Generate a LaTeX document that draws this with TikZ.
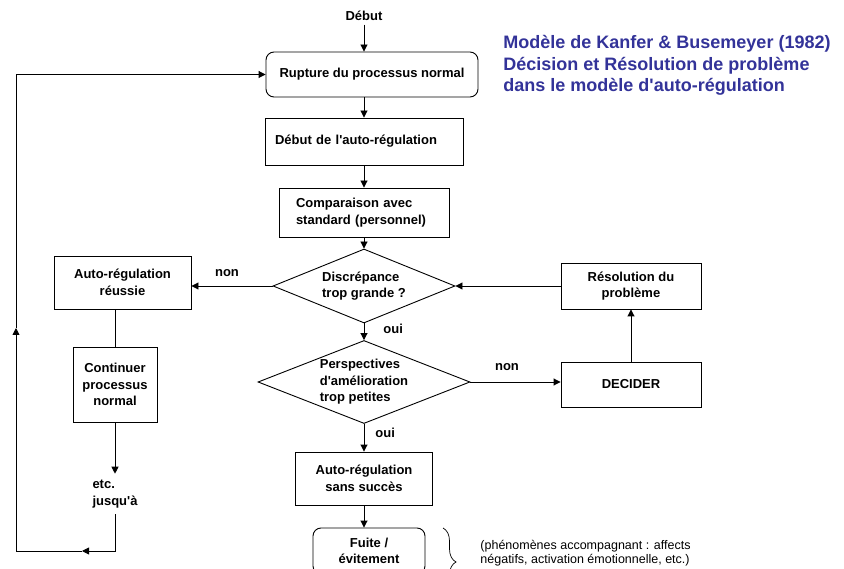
\documentclass[tikz,border=0pt]{standalone}
\usepackage{fontspec}
\setmainfont{Liberation Sans}
\usepackage{tikz}
\usetikzlibrary{arrows.meta,positioning,shapes.geometric,decorations.pathreplacing}
\definecolor{titleblue}{RGB}{51,51,153}

\begin{document}
\begin{tikzpicture}[x=1pt,y=-1pt,line width=0.9pt,
  every node/.style={font=\fontsize{13}{16.5}\selectfont\bfseries},
  box/.style={draw,inner sep=0pt,align=center},
  decision/.style={diamond,draw,aspect=2.5,inner sep=0pt,align=left},
  lbl/.style={inner sep=0pt},
  arr/.style={-{Triangle[length=7pt,width=7pt]}}]
\clip (0,0) rectangle (844,569);
% main column
\node (start) at (364,16) {Début};
\node[box,rounded corners=8pt,minimum width=212,minimum height=45] (rupture) at (372,74.5) {Rupture du processus normal};
\node[box,text width=178,inner xsep=10pt,align=left,minimum height=47] (autoreg) at (364,141.5) {Début de l\textquotesingle auto-régulation};
\node[box,text width=136,inner xsep=17pt,align=left,minimum height=49] (compare) at (364,212.5) {Comparaison avec\\standard (personnel)};
\node[decision,minimum width=182,minimum height=74] (discrep) at (364,286) {Discrépance\\trop grande ?};
\node[decision,minimum width=212,minimum height=83] (perspect) at (364,382) {Perspectives\\d\textquotesingle amélioration\\trop petites};
\node[box,minimum width=137,minimum height=53] (failure) at (364,478.5) {Auto-régulation\\sans succès};
\node[box,rounded corners=8pt,minimum width=112,minimum height=46] (escape) at (369,551) {Fuite /\\évitement};
% left branch
\node[box,minimum width=137,minimum height=53] (success) at (122.5,282.5) {Auto-régulation\\réussie};
\node[box,minimum width=84,minimum height=75] (continue) at (115,384.5) {Continuer\\processus\\normal};
\node[align=left,inner sep=6pt] (etc) at (115,494) {etc.\\jusqu\textquotesingle à};
% right branch
\node[box,minimum width=140,minimum height=46] (resolve) at (631,286) {Résolution du\\problème};
\node[box,minimum width=140,minimum height=45] (decide) at (631,384.5) {DECIDER};
% labels
\node[lbl] (nonleft) at (227,273) {non};
\node[lbl] (nonright) at (507,367) {non};
\node[lbl,anchor=west] (ouitop) at (383,329) {oui};
\node[lbl,anchor=west] (ouibottom) at (375,433) {oui};
\node[lbl,anchor=north west,align=left,text=titleblue,font=\fontsize{18}{21.5}\selectfont\bfseries] (title) at (503,35) {Modèle de Kanfer \& Busemeyer (1982)\\Décision et Résolution de problème\\dans le modèle d\textquotesingle auto-régulation};
\node[lbl,anchor=west,align=left,font=\fontsize{12.5}{14}\selectfont] (note) at (480,553) {(phénomènes accompagnant : affects\\négatifs, activation émotionnelle, etc.)};
% loop back
\coordinate (turnA) at (115,551);
\coordinate (midA) at (82,551);
\coordinate (turnB) at (16,551);
\coordinate (midB) at (16,328);
\coordinate (turnC) at (16,74.5);
% connectors
\draw[arr] (start) to (start |- rupture.north);
\draw[arr] (rupture.south -| autoreg) to (autoreg);
\draw[arr] (autoreg) to (compare);
\draw[arr] (compare) to (discrep);
\draw[arr] (discrep) to (perspect);
\draw[arr] (perspect) to (failure);
\draw[arr] (failure) to (failure |- escape.north);
\draw[arr] (discrep.west) to (discrep.west -| success.east);
\draw (success.south -| continue) to (continue);
\draw[arr] (continue) to (etc);
\draw[arr] (etc) -- (turnA) -- (midA);
\draw[arr] (midA) -- (turnB) -- (midB);
\draw[arr] (midB) -- (turnC) -- (rupture);
\draw[arr] (perspect.east) to (perspect.east -| decide.west);
\draw[arr] (decide) to (resolve);
\draw[arr] (resolve) to (discrep);
\draw[line width=0.7pt,decorate,decoration={brace,amplitude=13pt}] (443,528) to (443,596);
\end{tikzpicture}
\end{document}
